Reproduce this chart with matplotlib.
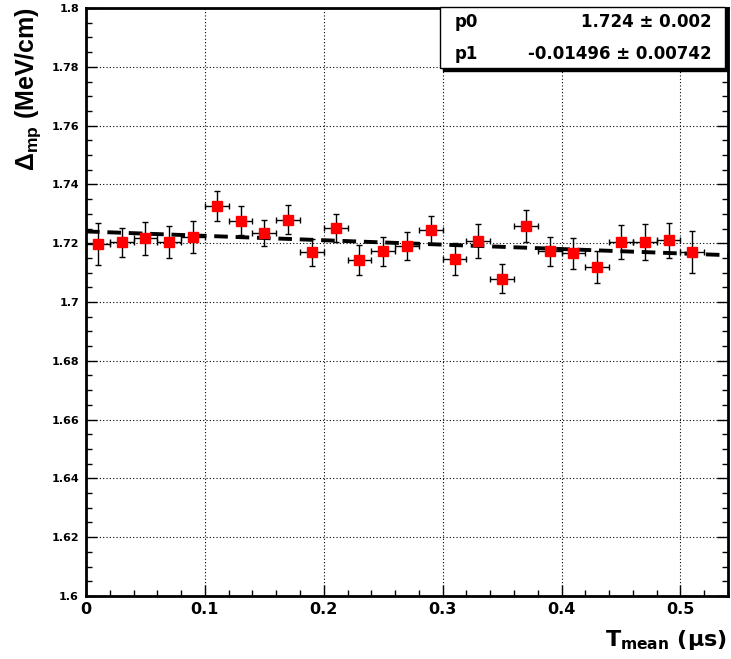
import numpy as np
import matplotlib
matplotlib.use("Agg")
import matplotlib.pyplot as plt
from matplotlib.patches import Rectangle
from matplotlib.ticker import MultipleLocator

plt.rcParams['font.family'] = ['DejaVu Sans']
plt.rcParams['font.weight'] = 'bold'
plt.rcParams['mathtext.fontset'] = 'custom'
plt.rcParams['mathtext.rm'] = 'DejaVu Sans:bold'
plt.rcParams['mathtext.it'] = 'DejaVu Sans:bold'
plt.rcParams['mathtext.bf'] = 'DejaVu Sans:bold'

# bin centres (us) and measured values
t_mean = [0.01, 0.03, 0.05, 0.07, 0.09, 0.11, 0.13, 0.15, 0.17, 0.19, 0.21, 0.23, 0.25,
          0.27, 0.29, 0.31, 0.33, 0.35, 0.37, 0.39, 0.41, 0.43, 0.45, 0.47, 0.49, 0.51]
t_err = [0.01] * 26
dmp = [1.7197, 1.7203, 1.7217, 1.7205, 1.7221, 1.7328, 1.7277, 1.7235, 1.7280, 1.7169,
       1.7253, 1.7143, 1.7172, 1.7191, 1.7244, 1.7147, 1.7208, 1.7079, 1.7259, 1.7173,
       1.7166, 1.7118, 1.7204, 1.7204, 1.7210, 1.7171]
dmp_err = [0.0071, 0.0050, 0.0056, 0.0054, 0.0054, 0.0051, 0.0050, 0.0045, 0.0050, 0.0045,
           0.0048, 0.0052, 0.0048, 0.0048, 0.0048, 0.0055, 0.0057, 0.0050, 0.0055, 0.0049,
           0.0053, 0.0055, 0.0057, 0.0060, 0.0060, 0.0072]

# fit parameters (pol1)
p0, p0_err = 1.724, 0.002
p1, p1_err = -0.01496, 0.00742


def main():
    fig = plt.figure(figsize=(7.31, 6.59), dpi=100)
    ax = fig.add_axes([86 / 731, 1 - 596 / 659, 642 / 731, 588 / 659])

    ax.set_xlim(0, 0.54)
    ax.set_ylim(1.6, 1.8)

    xf = np.linspace(0, 0.54, 100)
    ax.plot(xf, p0 + p1 * xf, color='black', lw=2.8, ls=(0, (3.5, 2)), zorder=2)

    ax.errorbar(t_mean, dmp, xerr=t_err, yerr=dmp_err, fmt='s', color='red',
                ms=7.5, mec='red', ecolor='black', elinewidth=1, capsize=2.5,
                capthick=1, zorder=3)

    ax.xaxis.set_major_locator(MultipleLocator(0.1))
    ax.xaxis.set_minor_locator(MultipleLocator(0.02))
    ax.yaxis.set_major_locator(MultipleLocator(0.02))
    ax.yaxis.set_minor_locator(MultipleLocator(0.005))
    ax.xaxis.set_major_formatter(plt.FuncFormatter(lambda v, p: '%g' % round(v, 3)))
    ax.yaxis.set_major_formatter(plt.FuncFormatter(lambda v, p: '%g' % round(v, 3)))

    ax.tick_params(which='both', direction='in', top=False, right=True, color='black')
    ax.tick_params(which='major', length=8, width=1)
    ax.tick_params(which='minor', length=4, width=1)
    ax.tick_params(axis='x', labelsize=11.5, pad=4)
    ax.tick_params(axis='y', labelsize=8, pad=5)
    for lab in ax.get_xticklabels() + ax.get_yticklabels():
        lab.set_fontweight('bold')

    ax.grid(True, which='major', color='black', ls=(0, (1, 2)), lw=0.8)
    for s in ax.spines.values():
        s.set_linewidth(2)
        s.set_color('black')

    fig.text(0.039, 0.99, r'$\mathregular{\Delta_{mp}}$ (MeV/cm)', rotation=90,
             ha='center', va='top', fontsize=18, fontweight='bold',
             family='Liberation Sans', math_fontfamily='dejavusans')
    fig.text(727 / 731, 1 - 640 / 659, r'$T_{mean}$ ($\mu$s)', ha='right', va='center',
             fontsize=16, fontweight='bold')

    # stats box with shadow
    bx0, bx1 = 440 / 731, 725 / 731
    by0, by1 = 1 - 68 / 659, 1 - 7 / 659
    fig.patches.append(Rectangle((bx0 + 3 / 731, by0 - 3 / 659), bx1 - bx0, by1 - by0,
                                 transform=fig.transFigure, facecolor='black',
                                 edgecolor='black', zorder=5))
    fig.patches.append(Rectangle((bx0, by0), bx1 - bx0, by1 - by0,
                                 transform=fig.transFigure, facecolor='white',
                                 edgecolor='black', lw=1, zorder=6))
    rows = [('p0', '%.3f' % p0, '%.3f' % p0_err), ('p1', '%.5f' % p1, '%.5f' % p1_err)]
    for i, (name, val, err) in enumerate(rows):
        yy = 1 - (22 + 32 * i) / 659
        fig.text(455 / 731, yy, name, ha='left', va='center', fontsize=12,
                 fontweight='bold', zorder=7)
        fig.text(712 / 731, yy, val + ' \u00b1 ' + err, ha='right', va='center',
                 fontsize=12, fontweight='bold', zorder=7)

    fig.savefig('out.png', dpi=100)


if __name__ == "__main__":
    main()
